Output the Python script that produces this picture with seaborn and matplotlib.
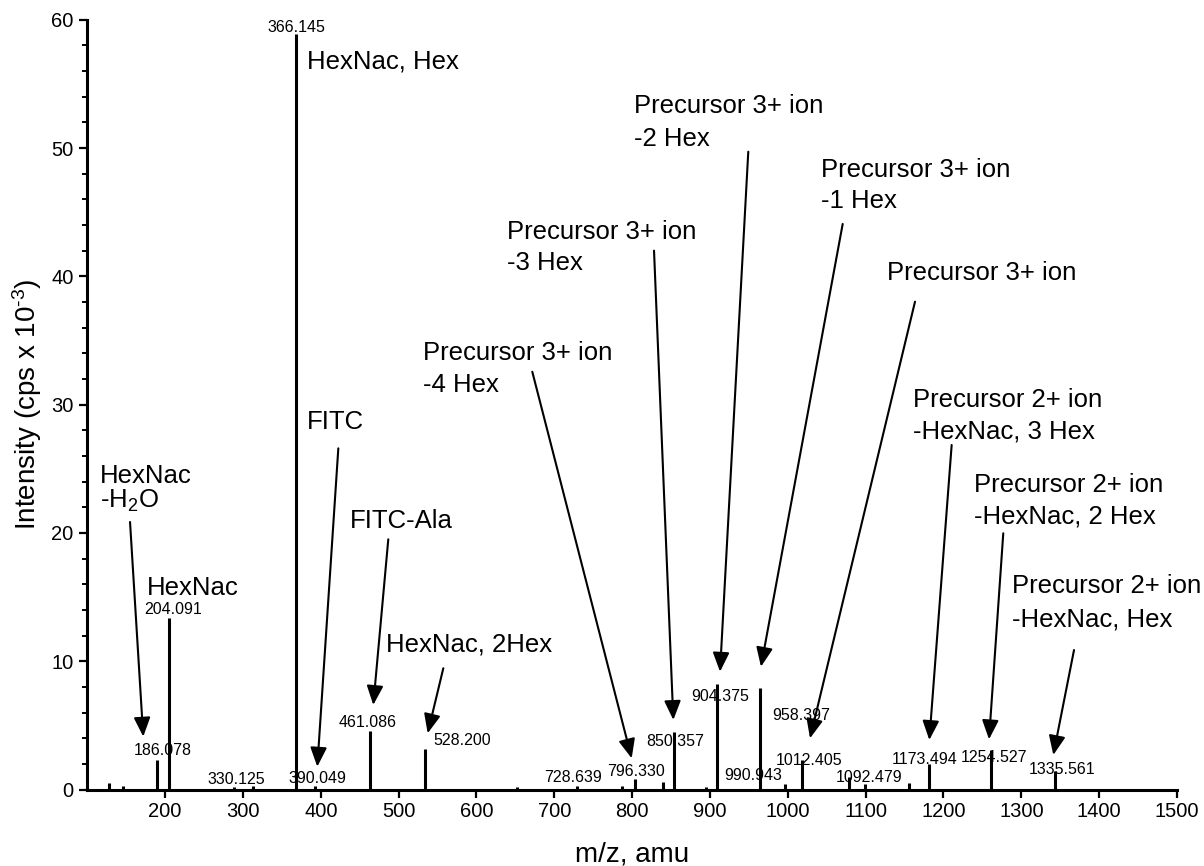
import numpy as np
import pandas as pd
import seaborn as sns
import matplotlib
matplotlib.use("Agg")
import matplotlib.pyplot as plt
from matplotlib.ticker import MultipleLocator

# ---------------- data ----------------
peak_mz = [127.9, 146.2, 189.9, 205.3, 288.0, 312.5, 367.7, 392.5, 463.2, 533.8,
           652.5, 728.7, 786.5, 803.5, 839.2, 854.1, 894.8, 908.6, 964.2, 996.7,
           1018.8, 1078.5, 1099.0, 1156.0, 1181.5, 1260.6, 1343.5]
peak_intensity = [0.5, 0.25, 2.27, 13.4, 0.2, 0.25, 58.85, 0.3, 4.55, 3.18,
                  0.2, 0.3, 0.3, 0.85, 0.6, 4.47, 0.2, 8.24, 7.88, 0.4,
                  2.3, 1.0, 0.4, 0.5, 2.0, 3.04, 1.48]

mass_labels = ["366.145", "204.091", "186.078", "330.125", "390.049", "461.086",
               "528.200", "728.639", "796.330", "850.357", "904.375", "958.397",
               "990.943", "1012.405", "1092.479", "1173.494", "1254.527", "1335.561"]

ion_labels = [
    ["HexNac", "-H$_{\\mathregular{2}}$O"],
    ["HexNac"],
    ["HexNac, Hex"],
    ["FITC"],
    ["FITC-Ala"],
    ["HexNac, 2Hex"],
    ["Precursor 3+ ion", "-4 Hex"],
    ["Precursor 3+ ion", "-3 Hex"],
    ["Precursor 3+ ion", "-2 Hex"],
    ["Precursor 3+ ion", "-1 Hex"],
    ["Precursor 3+ ion"],
    ["Precursor 2+ ion", "-HexNac, 3 Hex"],
    ["Precursor 2+ ion", "-HexNac, 2 Hex"],
    ["Precursor 2+ ion", "-HexNac, Hex"],
]

x_ticks = [200, 300, 400, 500, 600, 700, 800, 900, 1000, 1100, 1200, 1300, 1400, 1500]
y_ticks = [0, 10, 20, 30, 40, 50, 60]

# ---------------- layout (positions of the text / arrows, data coords) ----------------
mass_label_pos = [(368.1, 59.07), (210.1, 13.70), (197.3, 2.69), (291.0, 0.43),
                  (395.1, 0.51), (460.0, 4.84), (581.0, 3.49), (724.4, 0.55),
                  (804.9, 1.02), (855.7, 3.41), (913.5, 6.92), (1016.9, 5.44),
                  (955.3, 0.74), (1027.8, 1.93), (1104.9, 0.61), (1175.8, 1.99),
                  (1264.9, 2.11), (1351.9, 1.21)]

# left x and baseline y of each line
ion_label_pos = [
    [(116.3, 23.89), (116.3, 21.95)],
    [(176.3, 15.16)],
    [(381.9, 56.16)],
    [(381.9, 28.10)],
    [(437.5, 20.36)],
    [(483.8, 10.74)],
    [(530.9, 33.48), (530.9, 31.01)],
    [(638.8, 42.91), (638.8, 40.49)],
    [(802.8, 52.70), (802.8, 50.18)],
    [(1042.2, 47.76), (1042.2, 45.30)],
    [(1127.8, 39.71)],
    [(1161.2, 29.84), (1161.2, 27.37)],
    [(1239.2, 23.21), (1239.2, 20.75)],
    [(1287.6, 15.29), (1287.6, 12.69)],
]

# arrow (tail, tip)
arrows = [
    ((154.9, 20.85), (171.9, 4.12)),
    ((422.5, 26.59), (395.5, 1.78)),
    ((486.7, 19.50), (467.4, 6.59)),
    ((557.4, 9.45), (537.3, 4.38)),
    ((671.7, 32.56), (799.4, 2.43)),
    ((828.1, 42.00), (852.9, 5.42)),
    ((949.2, 49.71), (912.9, 9.18)),
    ((1070.5, 44.08), (965.5, 9.57)),
    ((1163.4, 38.02), (1028.5, 3.99)),
    ((1210.5, 26.85), (1181.8, 3.86)),
    ((1276.8, 19.97), (1258.5, 3.91)),
    ((1367.7, 10.87), (1341.1, 2.69)),
]

# ---------------- style ----------------
sns.set_theme(style="ticks")
plt.rcParams["font.family"] = ["Liberation Sans", "DejaVu Sans"]
plt.rcParams["mathtext.fontset"] = "custom"
plt.rcParams["mathtext.rm"] = "Liberation Sans"
plt.rcParams["mathtext.it"] = "Liberation Sans:italic"
plt.rcParams["mathtext.bf"] = "Liberation Sans:bold"

df = pd.DataFrame({"mz": peak_mz, "intensity": peak_intensity})

fig = plt.figure(figsize=(12.04, 8.66), dpi=100)
ax = fig.add_axes([87.3 / 1204, 1 - 789.5 / 866, (1177 - 87.3) / 1204, (789.5 - 19.7) / 866])

ax.vlines(df["mz"], 0, df["intensity"], color="black", linewidth=2.2)

ax.set_xlim(100, 1500)
ax.set_ylim(0, 60)
ax.set_xticks(x_ticks)
ax.set_xticklabels([str(t) for t in x_ticks])
ax.set_yticks(y_ticks)
ax.yaxis.set_minor_locator(MultipleLocator(2))
ax.tick_params(axis="both", which="major", direction="out", length=6, width=1.6,
               labelsize=14.5, color="black", labelcolor="black")
ax.tick_params(axis="x", pad=3)
ax.tick_params(axis="y", pad=4)
ax.tick_params(axis="y", which="minor", direction="out", length=3.5, width=1.4, color="black")
sns.despine(ax=ax)
for sp in ["left", "bottom"]:
    ax.spines[sp].set_linewidth(2.2)
    ax.spines[sp].set_color("black")
ax.grid(False)

ax.set_xlabel("m/z, amu", fontsize=20, color="black")
ax.set_ylabel("Intensity (cps x 10$^{\\text{-3}}$)", fontsize=20, color="black")
ax.xaxis.set_label_coords(0.5, -0.068)
ax.yaxis.set_label_coords(-0.040, 0.5)

for txt, (x, y) in zip(mass_labels, mass_label_pos):
    ax.text(x, y, txt, fontsize=11.5, ha="center", va="baseline", color="black", clip_on=False)

for lines, poss in zip(ion_labels, ion_label_pos):
    for line, (x, y) in zip(lines, poss):
        ax.text(x, y, line, fontsize=18.5, ha="left", va="baseline", color="black", clip_on=False)

for (tail, tip) in arrows:
    ax.annotate("", xy=tip, xytext=tail,
                arrowprops=dict(arrowstyle="-|>,head_length=0.65,head_width=0.28",
                                lw=1.5, color="black", shrinkA=0, shrinkB=0,
                                mutation_scale=18),
                annotation_clip=False)

fig.savefig("out.png", dpi=100)
